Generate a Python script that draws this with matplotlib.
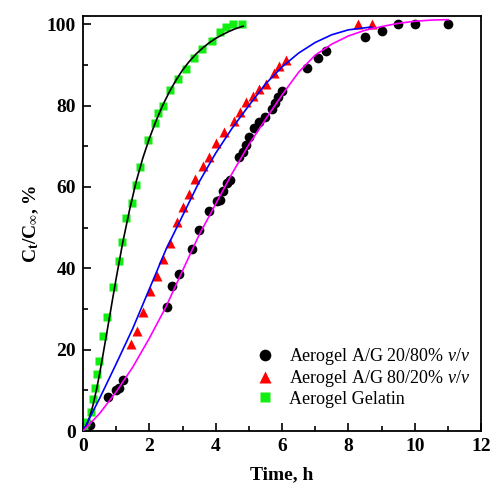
import matplotlib
matplotlib.use("Agg")
import matplotlib.pyplot as plt
from matplotlib.ticker import MultipleLocator

plt.rcParams['font.family'] = ['Liberation Serif', 'DejaVu Serif']
plt.rcParams['mathtext.fontset'] = 'custom'
plt.rcParams['mathtext.rm'] = 'Liberation Serif'
plt.rcParams['mathtext.it'] = 'Liberation Serif:italic'
plt.rcParams['mathtext.bf'] = 'Liberation Serif:bold'

# --- data ---
# Aerogel A/G 20/80 % v/v (black circles)
t_ag2080 = [0.2, 0.76, 0.99, 1.09, 1.20, 2.52, 2.67, 2.90, 3.30, 3.50, 3.80, 4.05, 4.13,
            4.23, 4.34, 4.44, 4.71, 4.81, 4.90, 5.01, 5.15, 5.29, 5.50, 5.71, 5.79, 5.88,
            5.99, 6.76, 7.09, 7.32, 8.49, 9.00, 9.50, 10.0, 11.0]
c_ag2080 = [1.4, 8.3, 10.1, 10.6, 12.5, 30.4, 35.6, 38.7, 44.7, 49.5, 54.0, 56.6, 56.9,
            59.0, 60.9, 61.6, 67.4, 68.6, 70.3, 72.2, 74.4, 75.9, 77.3, 79.1, 80.5, 82.0,
            83.6, 89.3, 91.8, 93.4, 96.9, 98.4, 100, 100, 100]

# Aerogel A/G 80/20 % v/v (red triangles)
t_ag8020 = [0.05, 1.44, 1.64, 1.82, 2.02, 2.22, 2.41, 2.61, 2.82, 3.01, 3.21, 3.39, 3.61,
            3.81, 4.01, 4.26, 4.54, 4.73, 4.92, 5.11, 5.31, 5.51, 5.76, 5.91, 6.11, 8.29, 8.70]
c_ag8020 = [0.5, 21.3, 24.6, 29.3, 34.5, 38.2, 42.4, 46.2, 51.4, 55.0, 58.2, 62.0, 65.2,
            67.4, 70.9, 73.6, 76.1, 78.5, 80.8, 82.4, 84.0, 85.4, 87.9, 89.7, 91.2, 100, 100]

# Aerogel Gelatin (green squares)
t_gel = [0.03, 0.09, 0.23, 0.29, 0.37, 0.43, 0.49, 0.61, 0.73, 0.91, 1.09, 1.17, 1.30, 1.47,
         1.59, 1.73, 1.96, 2.16, 2.27, 2.42, 2.62, 2.85, 3.11, 3.34, 3.60, 3.89, 4.13,
         4.31, 4.53, 4.79]
c_gel = [0.5, 2.3, 4.7, 7.9, 10.6, 14.1, 17.2, 23.4, 28.0, 35.4, 41.8, 46.4, 52.3, 56.1,
         60.4, 64.8, 71.5, 75.7, 78.1, 80.0, 83.8, 86.6, 88.9, 91.8, 94.0, 95.9, 98.0,
         99.3, 100, 100]

# fitted curves
t_fit_gel = [0, 0.1, 0.2, 0.3, 0.4, 0.5, 0.6, 0.7, 0.8, 0.9, 1.0, 1.2, 1.4, 1.6, 1.8, 2.0,
             2.2, 2.4, 2.6, 2.8, 3.0, 3.2, 3.4, 3.6, 3.8, 4.0, 4.2, 4.4, 4.6, 4.83]
c_fit_gel = [0, 1.2, 3.4, 6.3, 9.9, 14.0, 18.6, 23.3, 28.0, 32.8, 37.5, 46.4, 54.2, 61.2,
             67.0, 71.9, 76.2, 80.0, 83.3, 86.2, 88.7, 90.8, 92.6, 94.1, 95.4, 96.5, 97.4,
             98.2, 98.9, 99.5]

t_fit_8020 = [0, 0.5, 1.0, 1.5, 2.0, 2.5, 3.0, 3.5, 4.0, 4.5, 5.0, 5.5, 6.0, 6.5, 7.0,
              7.5, 8.0, 8.7]
c_fit_8020 = [0, 8.0, 16.5, 25.2, 34.9, 44.6, 52.9, 61.2, 68.3, 74.5, 80.0, 85.3, 89.5,
              92.9, 95.5, 97.4, 98.6, 99.3]

t_fit_2080 = [0, 0.5, 1.0, 1.5, 2.0, 2.5, 3.0, 3.5, 4.0, 4.5, 5.0, 5.5, 6.0, 6.5, 7.0, 7.5,
              8.0, 8.5, 9.0, 9.5, 10.0, 10.5, 11.0]
c_fit_2080 = [0, 4.3, 9.6, 15.7, 22.8, 30.5, 39.4, 48.2, 55.8, 63.4, 70.4, 76.6, 82.6,
              88.2, 92.4, 95.1, 97.1, 98.5, 99.4, 100.2, 100.7, 101.0, 101.1]

fig = plt.figure(figsize=(4.91, 4.94), dpi=100)
ax = fig.add_axes([0.169, 0.1275, 0.811, 0.8401])

ax.plot(t_ag2080, c_ag2080, 'o', color='black', ms=7, mec='none', zorder=2,
        label='Aerogel A/G 20/80% $\\mathit{v/v}$')
ax.plot(t_ag8020, c_ag8020, '^', color='#ff0000', ms=7.5, mec='none', zorder=2,
        label='Aerogel A/G 80/20% $\\mathit{v/v}$')
ax.plot(t_gel, c_gel, 's', color='#11ee11', ms=5.5, mec='none', zorder=2,
        label='Aerogel Gelatin')

ax.plot(t_fit_gel, c_fit_gel, '-', color='black', lw=1.2, zorder=3)
ax.plot(t_fit_8020, c_fit_8020, '-', color='#0000ff', lw=1.2, zorder=3)
ax.plot(t_fit_2080, c_fit_2080, '-', color='#ff00ff', lw=1.2, zorder=3)

ax.set_xlim(0, 12)
ax.set_ylim(0, 102)
ax.xaxis.set_major_locator(MultipleLocator(2))
ax.xaxis.set_minor_locator(MultipleLocator(1))
ax.yaxis.set_major_locator(MultipleLocator(20))
ax.yaxis.set_minor_locator(MultipleLocator(10))
ax.tick_params(which='both', direction='in', top=False, right=False, width=1.2)
ax.tick_params(which='major', length=6, labelsize=14, pad=5)
ax.tick_params(which='minor', length=3.5)
for lab in ax.get_xticklabels() + ax.get_yticklabels():
    lab.set_fontweight('bold')
for s in ax.spines.values():
    s.set_linewidth(1.3)

ax.set_xlabel('Time, h', fontsize=14, fontweight='bold', labelpad=8)
ax.set_ylabel('$\\mathbf{C_t/C_\\infty}$, %', fontsize=14, fontweight='bold', labelpad=4)

ax.legend(loc='lower right', bbox_to_anchor=(1.0, 0.03), frameon=False, fontsize=13,
          markerscale=1.2, handlelength=1.0, handletextpad=0.8, labelspacing=0.08,
          borderaxespad=0.2)

fig.savefig('out.png', dpi=100)
